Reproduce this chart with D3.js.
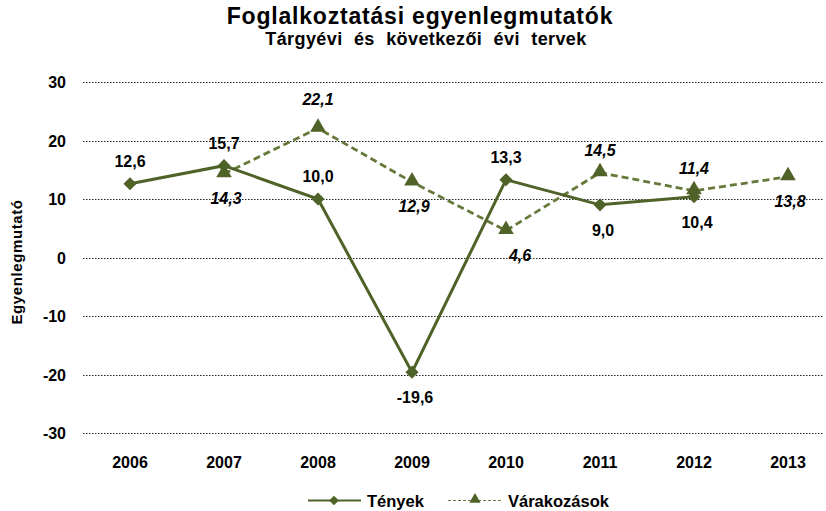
<!DOCTYPE html>
<html>
<head>
<meta charset="utf-8">
<script src="https://cdn.jsdelivr.net/npm/d3@7"></script>
<style>
  body { margin: 0; background: #fff; }
  text { font-family: "Liberation Sans", Arial, sans-serif; }
</style>
</head>
<body>
<div id="canvas"></div>
<script>
// data
const years = ["2006", "2007", "2008", "2009", "2010", "2011", "2012", "2013"];
const tenyek = [12.6, 15.7, 10.0, -19.6, 13.3, 9.0, 10.4, null];
const varakozasok = [null, 14.3, 22.1, 12.9, 4.6, 14.5, 11.4, 13.8];
// label placement: above (-1) or below (1)
const tenyekPos = [-1, -1, -1, 1, -1, 1, 1, 0];
const varPos = [0, 1, -1, 1, 1, -1, -1, 1];
const yTicks = [30, 20, 10, 0, -10, -20, -30];

const width = 826, height = 511;
const margin = { top: 82, right: -9, bottom: 78, left: 83 };

const svg = d3.select("#canvas").append("svg")
    .attr("width", width)
    .attr("height", height);

const x = d3.scaleBand()
    .domain(years)
    .range([margin.left, width - margin.right]);

const y = d3.scaleLinear()
    .domain([-30, 30])
    .range([height - margin.bottom, margin.top]);

const olive = "#4f6228";
const oliveLight = "#657a3a";

// title
svg.append("text")
    .attr("x", 420).attr("y", 24)
    .attr("text-anchor", "middle")
    .style("font-size", "23px").style("font-weight", "bold")
    .style("letter-spacing", "0.8px")
    .text("Foglalkoztatási egyenlegmutatók");
svg.append("text")
    .attr("x", 426).attr("y", 45)
    .attr("text-anchor", "middle")
    .style("font-size", "18px").style("font-weight", "bold")
    .style("word-spacing", "6px").style("letter-spacing", "0.4px")
    .text("Tárgyévi és következői évi tervek");

// grid
svg.append("g")
    .selectAll("line")
    .data(yTicks)
    .join("line")
    .attr("x1", margin.left).attr("x2", 824)
    .attr("y1", d => Math.round(y(d)) + 0.5)
    .attr("y2", d => Math.round(y(d)) + 0.5)
    .attr("stroke", "#222")
    .attr("stroke-width", 1)
    .attr("stroke-dasharray", "1.5,1.5");

// y axis labels
svg.append("g")
    .selectAll("text")
    .data(yTicks)
    .join("text")
    .attr("x", 66)
    .attr("y", d => y(d) + 6)
    .attr("text-anchor", "end")
    .style("font-size", "16px").style("font-weight", "bold")
    .text(d => d);

svg.append("text")
    .attr("transform", `translate(22, 262) rotate(-90)`)
    .attr("text-anchor", "middle")
    .style("font-size", "15px").style("font-weight", "bold")
    .style("letter-spacing", "0.6px")
    .text("Egyenlegmutató");

// x axis labels
svg.append("g")
    .selectAll("text")
    .data(years)
    .join("text")
    .attr("x", d => x(d) + x.bandwidth() / 2)
    .attr("y", 468)
    .attr("text-anchor", "middle")
    .style("font-size", "16px").style("font-weight", "bold")
    .text(d => d);

const cx = i => x(years[i]) + x.bandwidth() / 2;

const line = d3.line()
    .defined(d => d.v !== null)
    .x(d => cx(d.i))
    .y(d => y(d.v));

const tData = tenyek.map((v, i) => ({ v, i, p: tenyekPos[i] }));
const vData = varakozasok.map((v, i) => ({ v, i, p: varPos[i] }));

// expectations series
svg.append("path")
    .datum(vData)
    .attr("d", line)
    .attr("fill", "none")
    .attr("stroke", oliveLight)
    .attr("stroke-width", 2.8)
    .attr("stroke-dasharray", "7,4");

// facts series
svg.append("path")
    .datum(tData)
    .attr("d", line)
    .attr("fill", "none")
    .attr("stroke", olive)
    .attr("stroke-width", 3);

const diamond = d3.symbol().type(d3.symbolDiamond2).size(110);
const triangle = d3.symbol().type(d3.symbolTriangle).size(105);

svg.append("g")
    .selectAll("path")
    .data(tData.filter(d => d.v !== null))
    .join("path")
    .attr("transform", d => `translate(${cx(d.i)}, ${y(d.v)})`)
    .attr("d", diamond)
    .attr("fill", olive);

svg.append("g")
    .selectAll("path")
    .data(vData.filter(d => d.v !== null))
    .join("path")
    .attr("transform", d => `translate(${cx(d.i)}, ${y(d.v) - 1})`)
    .attr("d", triangle)
    .attr("fill", olive);

const fmt = v => d3.format(".1f")(v).replace(".", ",").replace("\u2212", "-");

// labels
svg.append("g")
    .selectAll("text")
    .data(tData.filter(d => d.v !== null))
    .join("text")
    .attr("x", d => cx(d.i) + (d.p > 0 ? 3 : 0))
    .attr("y", d => y(d.v) + (d.p < 0 ? -17 : 31))
    .attr("text-anchor", "middle")
    .style("font-size", "16px").style("font-weight", "bold")
    .text(d => fmt(d.v));

svg.append("g")
    .selectAll("text")
    .data(vData.filter(d => d.v !== null))
    .join("text")
    .attr("x", d => cx(d.i) + (d.v === 4.6 ? 14 : d.p > 0 ? 2 : 0))
    .attr("y", d => y(d.v) + (d.p < 0 ? (d.v > 20 ? -23 : -17) : 30))
    .attr("text-anchor", "middle")
    .style("font-size", "16px").style("font-weight", "bold")
    .style("font-style", "italic")
    .text(d => fmt(d.v));

// legend
const leg = svg.append("g");
leg.append("line")
    .attr("x1", 308).attr("x2", 361).attr("y1", 500.5).attr("y2", 500.5)
    .attr("stroke", olive).attr("stroke-width", 2);
leg.append("path")
    .attr("transform", "translate(334, 500.5)")
    .attr("d", d3.symbol().type(d3.symbolDiamond2).size(60))
    .attr("fill", olive);
leg.append("text")
    .attr("x", 367).attr("y", 507)
    .style("font-size", "16.5px").style("font-weight", "bold")
    .text("Tények");

leg.append("line")
    .attr("x1", 448).attr("x2", 503).attr("y1", 500.5).attr("y2", 500.5)
    .attr("stroke", oliveLight).attr("stroke-width", 1)
    .attr("stroke-dasharray", "3,2");
leg.append("path")
    .attr("transform", "translate(475, 499.5)")
    .attr("d", d3.symbol().type(d3.symbolTriangle).size(55))
    .attr("fill", olive);
leg.append("text")
    .attr("x", 508).attr("y", 507)
    .style("font-size", "16.5px").style("font-weight", "bold")
    .text("Várakozások");
</script>
</body>
</html>
